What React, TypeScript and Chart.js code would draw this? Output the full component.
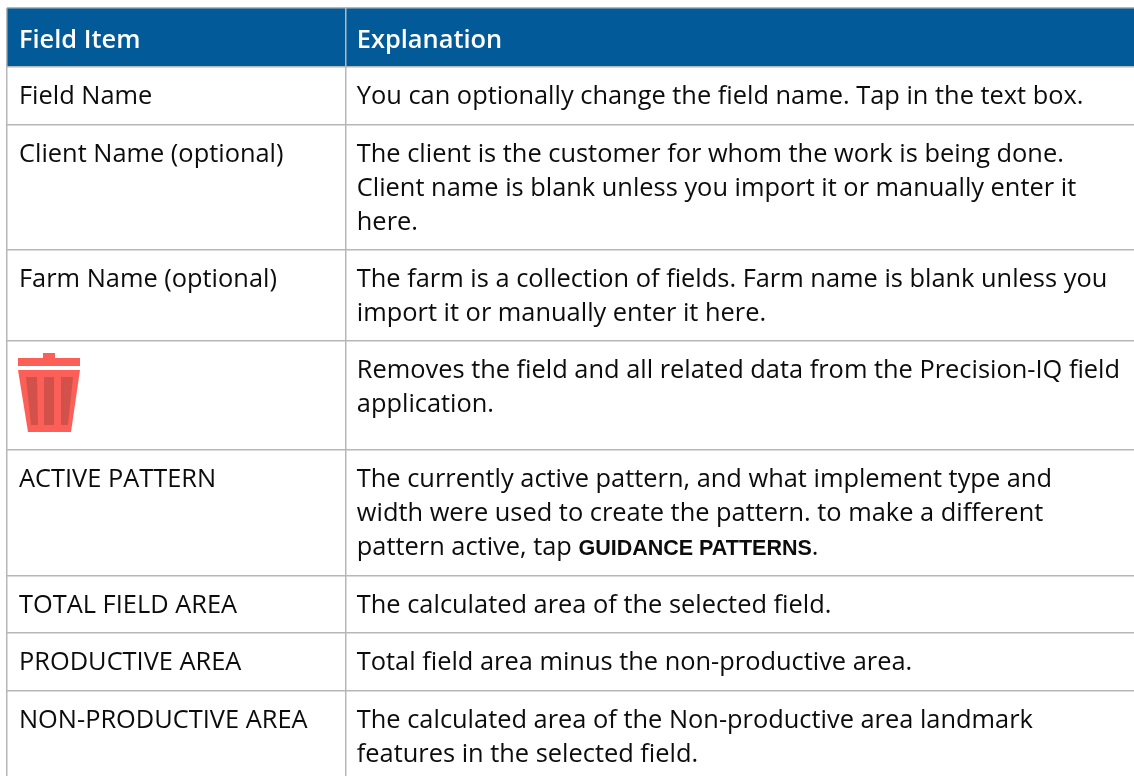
import React, { useEffect, useRef } from "react";
import { Chart, registerables } from "chart.js";

Chart.register(...registerables);

const HEADERS = ["Field Item", "Explanation"];
const FIELD_ITEMS = ["Field Name", "Client Name (optional)", "Farm Name (optional)", "", "ACTIVE PATTERN", "TOTAL FIELD AREA", "PRODUCTIVE AREA", "NON-PRODUCTIVE AREA"];
const EXPLANATIONS: string[][] = [
  ["You can optionally change the field name. Tap in the text box."],
  ["The client is the customer for whom the work is being done.", "Client name is blank unless you import it or manually enter it", "here."],
  ["The farm is a collection of fields. Farm name is blank unless you", "import it or manually enter it here."],
  ["Removes the field and all related data from the Precision-IQ field", "application."],
  ["The currently active pattern, and what implement type and", "width were used to create the pattern. to make a different", "pattern active, tap |GUIDANCE PATTERNS|."],
  ["The calculated area of the selected field."],
  ["Total field area minus the non-productive area."],
  ["The calculated area of the Non-productive area landmark", "features in the selected field."],
];
const ROW_LINES = [8, 67, 124.5, 250, 341, 450, 576, 633, 691];
const COLUMN_LINES = [7, 345.3];
const HEADER_TOP = [8];
const HEADER_BOTTOM = [67];
const HEADER_SPAN = [7, 1134];
const BODY_FONT = '25.4px "Open Sans", sans-serif';
const HEAD_FONT = '600 25.4px "Open Sans", sans-serif';
const KEY_FONT = 'bold 21.5px "Liberation Sans", sans-serif';

const tablePlugin = {
  id: "tableText",
  afterDraw(chart: any) {
    const { ctx, scales } = chart;
    const { x, y } = scales;
    const firstX = x.getPixelForValue(COLUMN_LINES[0]) + 12;
    const secondX = x.getPixelForValue(COLUMN_LINES[1]) + 11.5;
    ctx.save();
    ctx.textBaseline = "alphabetic";
    ctx.fillStyle = "#ffffff";
    ctx.font = HEAD_FONT;
    const headerY = y.getPixelForValue(HEADER_TOP[0]) + 40;
    ctx.fillText(HEADERS[0], firstX, headerY);
    ctx.fillText(HEADERS[1], secondX, headerY);
    ctx.fillStyle = "#0c0c0c";
    FIELD_ITEMS.forEach((item, i) => {
      const top = y.getPixelForValue(ROW_LINES[i + 1]);
      ctx.font = BODY_FONT;
      if (item) ctx.fillText(item, firstX, top + 37);
      EXPLANATIONS[i].forEach((line, j) => {
        const base = top + 37 + j * 34;
        let cx = secondX;
        line.split("|").forEach((part, k) => {
          ctx.font = k === 1 ? KEY_FONT : BODY_FONT;
          ctx.fillText(part, cx, base);
          cx += ctx.measureText(part).width;
        });
      });
    });
    ctx.restore();
  },
};

const trashPlugin = {
  id: "trash",
  afterDraw(chart: any) {
    const { ctx, scales } = chart;
    const left = scales.x.getPixelForValue(COLUMN_LINES[0]);
    const top = scales.y.getPixelForValue(ROW_LINES[4]);
    const ox = left + 11;
    const oy = top + 12;
    ctx.save();
    ctx.fillStyle = "#fb5f57";
    // knob
    ctx.fillRect(ox + 25, oy, 12, 6);
    // lid
    ctx.fillRect(ox, oy + 5, 62, 8);
    // body
    ctx.beginPath();
    ctx.moveTo(ox, oy + 17);
    ctx.lineTo(ox + 62, oy + 17);
    ctx.lineTo(ox + 53, oy + 79);
    ctx.lineTo(ox + 10, oy + 79);
    ctx.closePath();
    ctx.fill();
    ctx.fillStyle = "#d2514b";
    const bars = [
      [8, 11, 13, 7],
      [26, 10, 26, 10],
      [43, 12, 43, 7],
    ];
    bars.forEach(([a, w1, b, w2]) => {
      ctx.beginPath();
      ctx.moveTo(ox + a, oy + 24);
      ctx.lineTo(ox + a + w1, oy + 24);
      ctx.lineTo(ox + b + w2, oy + 72);
      ctx.lineTo(ox + b, oy + 72);
      ctx.closePath();
      ctx.fill();
    });
    ctx.restore();
  },
};

export default function App() {
  const ref = useRef<HTMLCanvasElement>(null);
  useEffect(() => {
    if (!ref.current) return;
    const chart = new Chart(ref.current, {
      type: "line",
      data: {
        datasets: [{
          data: HEADER_SPAN.map((x) => ({ x, y: HEADER_BOTTOM[0] })),
          backgroundColor: "#035a98",
          borderWidth: 0,
          pointRadius: 0,
          fill: { value: HEADER_TOP[0] },
        }],
      },
      options: {
        animation: false,
        responsive: false,
        layout: { padding: { left: COLUMN_LINES[0], top: HEADER_TOP[0], right: 0, bottom: 0 } },
        plugins: { legend: { display: false }, tooltip: { enabled: false } },
        scales: {
          x: {
            type: "linear", min: COLUMN_LINES[0], max: 1134,
            border: { display: false },
            afterBuildTicks: (s: any) => { s.ticks = COLUMN_LINES.map((value) => ({ value })); },
            ticks: { display: false },
            grid: { color: "#b7b7b7", lineWidth: 1.5, drawTicks: false, z: 1 },
          },
          y: {
            type: "linear", min: HEADER_TOP[0], max: 776, reverse: true,
            border: { display: false },
            afterBuildTicks: (s: any) => { s.ticks = ROW_LINES.map((value) => ({ value })); },
            ticks: { display: false },
            grid: { color: "#b7b7b7", lineWidth: 1.5, drawTicks: false, z: 1 },
          },
        },
      } as any,
      plugins: [tablePlugin, trashPlugin],
    });
    return () => chart.destroy();
  }, []);
  return <canvas ref={ref} width={1134} height={776} style={{ position: "fixed", left: 0, top: 0, display: "block" }} />;
}
